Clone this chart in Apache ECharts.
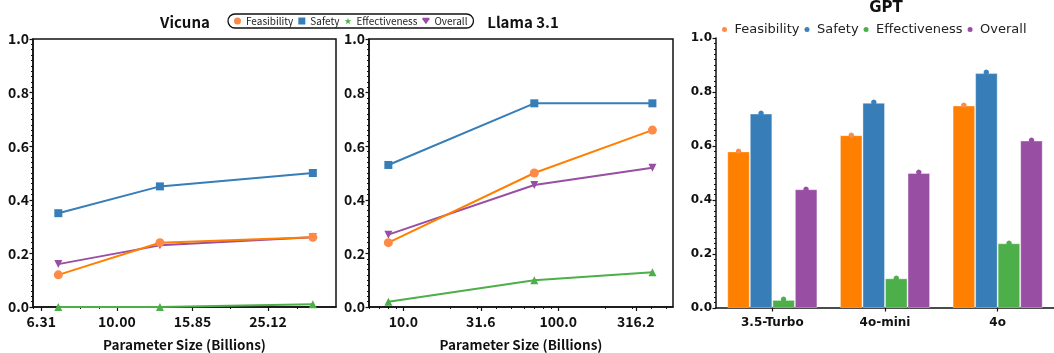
<!DOCTYPE html>
<html>
<head>
<meta charset="utf-8">
<script src="https://cdn.jsdelivr.net/npm/echarts@6/dist/echarts.min.js"></script>
<style>
html,body{margin:0;padding:0;background:#fff;}
#chart{width:1054px;height:353px;}
</style>
</head>
<body>
<div id="chart"></div>
<script>
// ---------- data ----------
const metricNames = ['Feasibility', 'Safety', 'Effectiveness', 'Overall'];

const vicunaSizes = [7, 13, 33];
const vicunaFeasibility = [0.12, 0.24, 0.26];
const vicunaSafety = [0.35, 0.45, 0.50];
const vicunaEffectiveness = [0.00, 0.00, 0.01];
const vicunaOverall = [0.16, 0.23, 0.26];

const llamaSizes = [8, 70, 405];
const llamaFeasibility = [0.24, 0.50, 0.66];
const llamaSafety = [0.53, 0.76, 0.76];
const llamaEffectiveness = [0.02, 0.10, 0.13];
const llamaOverall = [0.27, 0.455, 0.52];

const gptModels = ['3.5-Turbo', '4o-mini', '4o'];
const gptFeasibility = [0.58, 0.64, 0.75];
const gptSafety = [0.72, 0.76, 0.87];
const gptEffectiveness = [0.03, 0.11, 0.24];
const gptOverall = [0.44, 0.50, 0.62];

const vicunaTicks = [6.31, 10.00, 15.85, 25.12];
const vicunaMinorTicks = [6, 7, 8, 9, 20, 30];
const llamaTicks = [10.0, 31.6, 100.0, 316.2];
const llamaMinorTicks = [6, 7, 8, 9, 20, 30, 40, 50, 60, 70, 80, 90, 200, 300, 400, 500];
const vicunaRange = [6, 38];
const llamaRange = [6, 550];

// ---------- styles ----------
const SRC = '"Noto Sans CJK SC", "Noto Sans", sans-serif';
const DJV = '"DejaVu Sans", sans-serif';
const lineColors = ['#ff7f00', '#377eb8', '#4daf4a', '#984ea3'];
const markerColors = ['#fd8b47', '#377eb8', '#4daf4a', '#984ea3'];
const dotColors = ['#fd8b4b', '#3a80bf', '#4daf4a', '#984ea3'];
const symbols = ['circle', 'rect', 'triangle', 'path://M0,0L10,0L5,9Z'];
const legendIcons = ['circle', 'rect',
  'path://M5,0L6.2,3.6L10,3.6L6.9,5.9L8.1,9.5L5,7.3L1.9,9.5L3.1,5.9L0,3.6L3.8,3.6Z',
  'path://M0,0L10,0L10,2L5,9L0,2Z'];

const chart = echarts.init(document.getElementById('chart'), null, {renderer: 'canvas'});

function logAxes(gridIndex, ticks, minorTicks, range, digits) {
  const tickVals = ticks.map(t => Math.log10(t));
  const main = {
    type: 'value', gridIndex: gridIndex, position: 'bottom',
    min: Math.log10(range[0]), max: Math.log10(range[1]),
    name: 'Parameter Size (Billions)', nameLocation: 'middle', nameGap: 31,
    nameTextStyle: {fontFamily: SRC, fontSize: 13.5, fontWeight: 'bold', color: '#111'},
    axisLine: {show: true, onZero: false, lineStyle: {color: '#111', width: 1.5}},
    axisTick: {show: true, customValues: tickVals, length: 4, lineStyle: {color: '#111', width: 1.2}},
    axisLabel: {
      show: true, customValues: tickVals, margin: 8,
      fontFamily: SRC, fontSize: 14, fontWeight: 'bold', color: '#111',
      formatter: function (v) {
        let best = 0;
        for (let i = 1; i < tickVals.length; i++) {
          if (Math.abs(tickVals[i] - v) < Math.abs(tickVals[best] - v)) best = i;
        }
        return ticks[best].toFixed(digits);
      }
    },
    splitLine: {show: false}
  };
  const minor = {
    type: 'value', gridIndex: gridIndex, position: 'bottom',
    min: Math.log10(range[0]), max: Math.log10(range[1]),
    axisLine: {show: false},
    axisTick: {show: true, customValues: minorTicks.map(t => Math.log10(t)), length: 2, lineStyle: {color: '#111', width: 1}},
    axisLabel: {show: false},
    splitLine: {show: false}
  };
  return [main, minor];
}

function yAxisDef(gridIndex, font, fontSize) {
  return {
    type: 'value', gridIndex: gridIndex, min: 0, max: 1, interval: 0.2,
    axisLine: {show: true, lineStyle: {color: '#111', width: 1.5}},
    axisTick: {show: true, length: 3.5, lineStyle: {color: '#111', width: 1.2}},
    minorTick: {show: true, splitNumber: 10, length: 2, lineStyle: {color: '#111', width: 1}},
    axisLabel: {margin: 4, fontFamily: font, fontSize: fontSize, fontWeight: 'bold', color: '#111',
      formatter: v => v.toFixed(1)},
    splitLine: {show: false}
  };
}

function lineSeries(xIdx, yIdx, sizes, arrays) {
  return arrays.map((arr, k) => ({
    type: 'line', name: metricNames[k], xAxisIndex: xIdx, yAxisIndex: yIdx,
    data: sizes.map((s, i) => [Math.log10(s), arr[i]]),
    symbol: symbols[k], symbolSize: k === 0 ? 9 : 8,
    lineStyle: {color: lineColors[k], width: 2},
    itemStyle: {color: markerColors[k]},
    z: k === 0 ? 5 : 3,
    clip: false
  }));
}

const vAx = logAxes(0, vicunaTicks, vicunaMinorTicks, vicunaRange, 2);
const lAx = logAxes(1, llamaTicks, llamaMinorTicks, llamaRange, 1);

const gptArrays = [gptFeasibility, gptSafety, gptEffectiveness, gptOverall];

const option = {
  animation: false,
  backgroundColor: '#fff',
  grid: [
    {left: 33, top: 39, width: 303, height: 268, show: true, borderColor: '#111', borderWidth: 1.5,
      backgroundColor: 'transparent', containLabel: false, outerBoundsMode: 'none'},
    {left: 369, top: 39, width: 304, height: 268, show: true, borderColor: '#111', borderWidth: 1.5,
      backgroundColor: 'transparent', containLabel: false, outerBoundsMode: 'none'},
    {left: 716, top: 38, width: 338, height: 270, containLabel: false, outerBoundsMode: 'none'}
  ],
  graphic: [
    {type: 'text', x: 185, y: 22, style: {text: 'Vicuna', font: 'bold 15px ' + SRC, fill: '#111', align: 'center', verticalAlign: 'middle'}},
    {type: 'text', x: 523, y: 22, style: {text: 'Llama 3.1', font: 'bold 15px ' + SRC, fill: '#111', align: 'center', verticalAlign: 'middle'}},
    {type: 'text', x: 886, y: 8.5, style: {text: 'GPT', font: 'bold 15px ' + DJV, fill: '#111', align: 'center', verticalAlign: 'middle'}}
  ],
  legend: [
    {
      left: 228, top: 14, orient: 'horizontal',
      padding: [2, 6], borderColor: '#111', borderWidth: 1.3, borderRadius: 8,
      itemWidth: 7, itemHeight: 7, itemGap: 5,
      textStyle: {fontFamily: SRC, fontSize: 10, color: '#222'},
      data: metricNames.map((n, k) => ({name: n, icon: legendIcons[k], itemStyle: {color: markerColors[k]}}))
    },
    {
      left: 722, top: 23, orient: 'horizontal', padding: 0,
      itemWidth: 10, itemHeight: 5, itemGap: 5,
      textStyle: {fontFamily: DJV, fontSize: 13, color: '#222'},
      data: metricNames.map((n, k) => ({name: n, icon: 'circle', itemStyle: {color: dotColors[k]}}))
    }
  ],
  xAxis: [
    vAx[0], vAx[1], lAx[0], lAx[1],
    {
      type: 'category', gridIndex: 2, data: gptModels,
      axisLine: {show: true, lineStyle: {color: '#111', width: 1.5}},
      axisTick: {show: true, alignWithLabel: true, length: 3.5, lineStyle: {color: '#111', width: 1.2}},
      axisLabel: {margin: 9, fontFamily: DJV, fontSize: 12, fontWeight: 'bold', color: '#111'},
      splitLine: {show: false}
    }
  ],
  yAxis: [yAxisDef(0, SRC, 14), yAxisDef(1, SRC, 14), yAxisDef(2, DJV, 12)],
  series: [].concat(
    lineSeries(0, 0, vicunaSizes, [vicunaFeasibility, vicunaSafety, vicunaEffectiveness, vicunaOverall]),
    lineSeries(2, 1, llamaSizes, [llamaFeasibility, llamaSafety, llamaEffectiveness, llamaOverall]),
    gptArrays.map((arr, k) => ({
      type: 'bar', name: metricNames[k], xAxisIndex: 4, yAxisIndex: 2,
      data: arr, barCategoryGap: '20%', barGap: '0%',
      itemStyle: {color: lineColors[k], borderColor: 'rgba(255,255,255,0.35)', borderWidth: 1},
      label: {show: true, position: 'top', distance: -3, formatter: '\u25CF',
        fontFamily: DJV, fontSize: 7, color: dotColors[k]}
    }))
  )
};
chart.setOption(option);
</script>
</body>
</html>
